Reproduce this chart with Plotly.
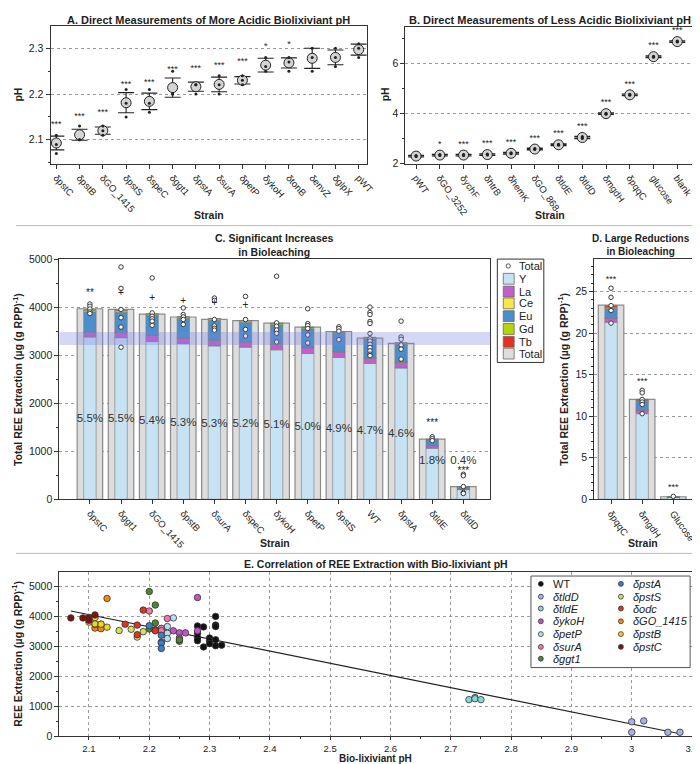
import plotly.graph_objects as go

W, H = 700, 764
FONT = "Liberation Sans, Arial, Helvetica, sans-serif"
INK = "#222222"


def px(x):
    return x / W


def py(y):
    return 1 - y / H


# ---------------- panel A: more acidic biolixiviant pH
a_strains = ["δpstC", "δpstB", "δGO_1415", "δpstS", "δspeC", "δggt1", "δpstA",
             "δsurA", "δpetP", "δykoH", "δtonB", "δenvZ", "δglpX", "pWT"]
a_mean = [2.093, 2.111, 2.120, 2.181, 2.184, 2.214, 2.216, 2.221, 2.230,
          2.263, 2.268, 2.278, 2.280, 2.297]
a_err = [0.015, 0.012, 0.008, 0.022, 0.018, 0.021, 0.010, 0.016, 0.008,
         0.015, 0.011, 0.022, 0.016, 0.012]
a_pts = [[2.07, 2.09, 2.11], [2.10, 2.10, 2.13], [2.11, 2.12, 2.13],
         [2.15, 2.18, 2.21], [2.16, 2.18, 2.21], [2.20, 2.20, 2.25],
         [2.20, 2.22, 2.22], [2.20, 2.22, 2.24], [2.22, 2.23, 2.24],
         [2.25, 2.26, 2.28], [2.25, 2.27, 2.28], [2.25, 2.28, 2.30],
         [2.26, 2.28, 2.30], [2.28, 2.30, 2.31]]
a_stars = ["***", "***", "***", "***", "***", "***", "***", "***", "***",
           "*", "*", "", "", ""]

# ---------------- panel B: less acidic biolixiviant pH
b_strains = ["pWT", "δGO_3252", "δychF", "δhtrB", "δhemK", "δGO_868",
             "δtldE", "δtldD", "δmgdH", "δpqqC", "glucose", "blank"]
b_mean = [2.30, 2.34, 2.34, 2.36, 2.41, 2.58, 2.75, 3.04, 3.99, 4.74, 6.26, 6.86]
b_err = [0.03, 0.03, 0.03, 0.03, 0.03, 0.03, 0.03, 0.04, 0.03, 0.03, 0.03, 0.03]
b_pts = [[2.28, 2.30, 2.32], [2.32, 2.34, 2.36], [2.32, 2.34, 2.36],
         [2.34, 2.36, 2.38], [2.39, 2.41, 2.43], [2.56, 2.58, 2.60],
         [2.73, 2.75, 2.77], [3.00, 3.04, 3.08], [3.97, 3.99, 4.01],
         [4.72, 4.74, 4.76], [6.24, 6.26, 6.28], [6.84, 6.86, 6.88]]
b_stars = ["", "*", "***", "***", "***", "***", "***", "***", "***", "***",
           "***", "***"]

# ---------------- panel C: significant increases in bioleaching
c_strains = ["δpstC", "δggt1", "δGO_1415", "δpstB", "δsurA", "δspeC", "δykoH",
             "δpetP", "δpstS", "WT", "δpstA", "δtldE", "δtldD"]
c_total = [3966, 3955, 3856, 3794, 3746, 3718, 3665, 3582, 3493, 3354, 3245, 1252, 265]
c_Y = [3378, 3364, 3282, 3240, 3192, 3165, 3110, 3034, 2952, 2828, 2732, 1061, 200]
c_La = [103, 117, 130, 117, 117, 110, 117, 124, 117, 103, 117, 55, 12]
c_Ce = [4, 4, 4, 4, 4, 4, 4, 4, 4, 4, 4, 2, 1]
c_Eu = [415, 408, 409, 402, 415, 408, 401, 388, 380, 408, 374, 120, 45]
c_Gd = [40, 40, 30, 30, 30, 30, 30, 30, 25, 25, 25, 10, 4]
c_Tb = [5, 5, 5, 5, 5, 5, 5, 5, 5, 5, 5, 3, 1]
c_pct = ["5.5%", "5.5%", "5.4%", "5.3%", "5.3%", "5.2%", "5.1%", "5.0%",
         "4.9%", "4.7%", "4.6%", "1.8%", "0.4%"]
c_marks = ["**", "+", "+", "+", "+", "+", "", "", "", "", "", "***", "***"]
c_pts = [
    [4065, 4017, 3962, 3900, 3866],
    [4835, 4390, 3950, 3780, 3585, 3165],
    [4608, 3880, 3811, 3756, 3708, 3620],
    [3983, 3845, 3797, 3742, 3639],
    [4189, 4141, 3742, 3610, 3560, 3520],
    [4223, 3742, 3536, 3400],
    [4643, 3673, 3603, 3522, 3454, 3275],
    [3966, 3656, 3615, 3553, 3420, 3254],
    [3590, 3553, 3500, 3323],
    [4000, 3890, 3845, 3700, 3660, 3450, 3340, 3295, 3227, 3160, 3090, 3020, 2990],
    [3708, 3378, 3330, 3213, 3124, 2918],
    [1300, 1260, 1220],
    [520, 490, 265, 140, 120],
]
wt_band = [3213, 3481]

# ---------------- panel D: large reductions in bioleaching
d_strains = ["δpqqC", "δmgdH", "Glucose"]
d_total = [23.35, 12.03, 0.30]
d_Y = [21.3, 10.3, 0.25]
d_La = [0.5, 0.45, 0.01]
d_Ce = [0.05, 0.03, 0.0]
d_Eu = [1.1, 1.0, 0.03]
d_Gd = [0.15, 0.1, 0.0]
d_Tb = [0.2, 0.15, 0.005]
d_pts = [[25.4, 24.3, 23.3, 22.7, 21.2],
         [13.1, 12.8, 12.0, 11.7, 11.4, 10.3],
         [0.35]]
d_stars = ["***", "***", "***"]

# ---------------- panel E: REE extraction vs pH
e_groups = ["WT", "δtldD", "δtldE", "δykoH", "δpetP", "δsurA", "δggt1",
            "δpstA", "δpstS", "δodc", "δGO_1415", "δpstB", "δpstC"]
e_colors = ["#111111", "#a9b1e6", "#86d8d6", "#c453c9", "#b9dcf2", "#f277ad",
            "#4b8a2a", "#3b7fc6", "#d2e05e", "#e5321e", "#f08a12", "#f3d32a", "#7d1212"]
e_ph = [
    [2.28, 2.28, 2.28, 2.28, 2.29, 2.29, 2.30, 2.30, 2.30, 2.31, 2.31, 2.31, 2.31, 2.31, 2.32],
    [3.00, 3.00, 3.02, 3.06, 3.08],
    [2.73, 2.74, 2.74, 2.75],
    [2.24, 2.25, 2.26, 2.28, 2.28, 2.25],
    [2.23, 2.23, 2.23, 2.24, 2.22],
    [2.20, 2.23, 2.22, 2.22, 2.21],
    [2.20, 2.21, 2.21, 2.20, 2.25, 2.25],
    [2.20, 2.22, 2.22, 2.22, 2.22],
    [2.15, 2.17, 2.18, 2.19, 2.10],
    [2.16, 2.18, 2.18, 2.19, 2.21, 2.21],
    [2.13, 2.11, 2.12, 2.12, 2.12, 2.11],
    [2.11, 2.11, 2.13, 2.12, 2.10],
    [2.07, 2.09, 2.10, 2.10, 2.11],
]
e_ree = [
    [3690, 3450, 3300, 3200, 3660, 2990, 3290, 3200, 3100, 4010, 3720, 3670, 3230, 3030, 3050],
    [490, 140, 520, 140, 140],
    [1230, 1300, 1260, 1230],
    [3530, 3460, 3460, 3530, 4640, 3290],
    [3670, 3450, 3270, 3960, 3600],
    [4190, 3940, 3610, 3530, 3560],
    [4840, 4390, 3790, 3590, 3180, 3230],
    [3700, 3380, 3150, 3120, 2940],
    [3540, 3580, 3320, 3500, 3980],
    [3750, 3720, 3400, 4220, 3560, 3530],
    [4610, 3620, 3750, 3670, 3600, 3740],
    [3760, 3970, 3650, 3750, 3820],
    [3960, 3960, 3960, 3880, 4060],
]
fit_ph = [2.07, 3.08]
fit_ree = [4190, 90]

ree_names = ["Y", "La", "Ce", "Eu", "Gd", "Tb"]
ree_colors = ["#c7e2f3", "#c25fcb", "#f7e64a", "#4a8fcb", "#b5d40a", "#e3321f"]
TOTAL_GRAY = "#dddddd"

fig = go.Figure()


def flat(cats, groups):
    xs, ys = [], []
    for c, g in zip(cats, groups):
        xs += [c] * len(g)
        ys += g
    return xs, ys


def marks(cats, ys, texts, xa, ya, size=9):
    keep = [(c, y, t) for c, y, t in zip(cats, ys, texts) if t]
    fig.add_trace(go.Scatter(x=[k[0] for k in keep], y=[k[1] for k in keep], mode="text",
                             text=[k[2] for k in keep], textfont=dict(size=size, color=INK),
                             xaxis=xa, yaxis=ya))


# ---- A
fig.add_trace(go.Scatter(x=a_strains, y=a_mean, mode="markers",
                         marker=dict(size=10, color="#d4d4d4", line=dict(color=INK, width=1)),
                         error_y=dict(type="data", array=a_err, color=INK, thickness=1.1, width=8),
                         xaxis="x", yaxis="y"))
ax_, ay_ = flat(a_strains, a_pts)
fig.add_trace(go.Scatter(x=ax_, y=ay_, mode="markers", marker=dict(size=3, color=INK),
                         xaxis="x", yaxis="y"))
marks(a_strains, [m + 0.04 for m in a_mean], a_stars, "x", "y")

# ---- B
fig.add_trace(go.Scatter(x=b_strains, y=b_mean, mode="markers",
                         marker=dict(size=10, color="#d4d4d4", line=dict(color=INK, width=1)),
                         error_y=dict(type="data", array=b_err, color=INK, thickness=1.4, width=8),
                         xaxis="x2", yaxis="y2"))
bx_, by_ = flat(b_strains, b_pts)
fig.add_trace(go.Scatter(x=bx_, y=by_, mode="markers", marker=dict(size=3, color=INK),
                         xaxis="x2", yaxis="y2"))
marks(b_strains, [m + 0.42 for m in b_mean], b_stars, "x2", "y2")


# ---- C and D stacked bars
def stacked(cats, total, comps, xa, ya):
    fig.add_trace(go.Bar(x=cats, y=total, width=0.82,
                         marker=dict(color=TOTAL_GRAY, line=dict(color="#8a8a8a", width=1.2)),
                         xaxis=xa, yaxis=ya))
    base = [0] * len(cats)
    for vals, col in zip(comps, ree_colors):
        fig.add_trace(go.Bar(x=cats, y=vals, base=base, width=0.4,
                             marker=dict(color=col, line=dict(color="#7a7a7a", width=0.6)),
                             xaxis=xa, yaxis=ya))
        base = [b + v for b, v in zip(base, vals)]


stacked(c_strains, c_total, [c_Y, c_La, c_Ce, c_Eu, c_Gd, c_Tb], "x3", "y3")
stacked(d_strains, d_total, [d_Y, d_La, d_Ce, d_Eu, d_Gd, d_Tb], "x4", "y4")

fig.add_trace(go.Scatter(x=c_strains, y=[max(0.42 * t, 790) for t in c_total], mode="text",
                         text=c_pct, textfont=dict(size=11.5, color="#333333"),
                         xaxis="x3", yaxis="y3"))
cx_, cy_ = flat(c_strains, c_pts)
fig.add_trace(go.Scatter(x=cx_, y=cy_, mode="markers",
                         marker=dict(size=4.5, color="white", line=dict(color="#3a3a3a", width=1)),
                         xaxis="x3", yaxis="y3"))
marks(c_strains, [t + 320 for t in c_total], c_marks, "x3", "y3", size=10)

dx_, dy_ = flat(d_strains, d_pts)
fig.add_trace(go.Scatter(x=dx_, y=dy_, mode="markers",
                         marker=dict(size=4.5, color="white", line=dict(color="#3a3a3a", width=1)),
                         xaxis="x4", yaxis="y4"))
marks(d_strains, [max(p) + 1.0 for p in d_pts], d_stars, "x4", "y4")

# ---- E
fig.add_trace(go.Scatter(x=fit_ph, y=fit_ree, mode="lines", line=dict(color=INK, width=1.2),
                         xaxis="x5", yaxis="y5"))
for name, col, xs, ys in zip(e_groups, e_colors, e_ph, e_ree):
    fig.add_trace(go.Scatter(x=xs, y=ys, mode="markers", name=name,
                             marker=dict(size=6.5, color=col, line=dict(color="#333333", width=0.8)),
                             xaxis="x5", yaxis="y5"))


def axis(**kw):
    d = dict(showline=True, linecolor="#333333", linewidth=1, mirror=True, ticks="outside",
             ticklen=4, tickwidth=1, tickcolor="#333333", tickfont=dict(size=10.5, color=INK),
             showgrid=False, zeroline=False, fixedrange=True)
    d.update(kw)
    return d


cat_font = dict(size=9.5, color=INK)
grid = dict(showgrid=True, gridcolor="#9a9a9a", griddash="dot", gridwidth=1)
minor = dict(ticks="outside", ticklen=2, tickcolor="#333333", showgrid=False)

fig.update_layout(
    width=W, height=H, margin=dict(l=0, r=0, t=0, b=0),
    paper_bgcolor="white", plot_bgcolor="white", showlegend=False,
    barmode="overlay", font=dict(family=FONT, color=INK),
    xaxis=axis(domain=[px(43), px(363)], anchor="y", type="category", tickangle=48,
               range=[-0.25, 13.35], tickfont=cat_font),
    yaxis=axis(domain=[py(152), py(12)], anchor="x", range=[2.048, 2.349], dtick=0.1,
               tick0=2.1, minor=dict(dtick=0.05, **minor), **grid),
    xaxis2=axis(domain=[px(402), px(695)], anchor="y2", type="category", tickangle=55,
                range=[-0.45, 11.75], tickfont=cat_font),
    yaxis2=axis(domain=[py(152), py(13)], anchor="x2", range=[2, 7.45], tickvals=[2, 4, 6],
                minor=dict(dtick=1, **minor), **grid),
    xaxis3=axis(domain=[px(52), px(488)], anchor="y3", type="category", tickangle=48,
                range=[-0.98, 12.87], tickfont=cat_font),
    yaxis3=axis(domain=[py(493), py(249)], anchor="x3", range=[0, 5000], dtick=1000,
                minor=dict(dtick=500, **minor), **grid),
    xaxis4=axis(domain=[px(593), px(696)], anchor="y4", type="category", tickangle=55,
                range=[-0.54, 2.73], tickfont=cat_font),
    yaxis4=axis(domain=[py(493), py(249)], anchor="x4", range=[0, 28.9], dtick=5,
                minor=dict(dtick=1, **minor), **grid),
    xaxis5=axis(domain=[px(52), px(695)], anchor="y5", range=[2.051, 3.105], dtick=0.1,
                tick0=2.1, ticklen=3, minor=dict(dtick=0.05, **minor),
                tickfont=dict(size=9.5, color=INK), **grid),
    yaxis5=axis(domain=[py(734), py(567)], anchor="x5", range=[0, 5490], dtick=1000,
                minor=dict(dtick=500, **minor), **grid),
)

# WT reference band in panel C
fig.add_shape(type="rect", xref="x3 domain", yref="y3", x0=0, x1=1, y0=wt_band[0], y1=wt_band[1],
              fillcolor="rgba(120,130,225,0.32)", line=dict(width=0), layer="above")

# panel separators
for yy in (215, 548):
    fig.add_shape(type="line", xref="paper", yref="paper", x0=px(8), x1=px(692),
                  y0=py(yy), y1=py(yy), line=dict(color="#bbbbbb", width=1))


def label(text, x, y, size=10.5, angle=0):
    fig.add_annotation(text=text, x=px(x), y=py(y), xref="paper", yref="paper",
                       showarrow=False, xanchor="center", yanchor="middle", textangle=angle,
                       font=dict(size=size, color=INK, family=FONT))


label("<b>A. Direct Measurements of More Acidic Biolixiviant pH</b>", 203, 6, 11)
label("<b>B. Direct Measurements of Less Acidic Biolixiviant pH</b>", 548, 6, 11)
label("<b>C. Significant Increases<br>in Bioleaching</b>", 270, 235)
label("<b>D. Large Reductions<br>in Bioleaching</b>", 640, 235, 10)
label("<b>E. Correlation of REE Extraction with Bio-lixiviant pH</b>", 372, 559)
label("<b>Strain</b>", 203, 204)
label("<b>Strain</b>", 548, 204)
label("<b>Strain</b>", 270, 537)
label("<b>Strain</b>", 642, 537)
label("<b>Bio-lixiviant pH</b>", 372, 756, 10)
label("<b>pH</b>", 10, 82, angle=-90)
label("<b>pH</b>", 381, 82, angle=-90)
label("<b>Total REE Extraction (µg (g RPP)<sup>-1</sup>)</b>", 9, 371, angle=-90)
label("<b>Total REE Extraction (µg (g RPP)<sup>-1</sup>)</b>", 561, 371, angle=-90)
label("<b>REE Extraction (µg (g RPP)<sup>-1</sup>)</b>", 9, 650, angle=-90)


def legend_text(text, x, y, size=11):
    fig.add_annotation(text=text, x=px(x), y=py(y), xref="paper", yref="paper",
                       showarrow=False, xanchor="left", yanchor="middle",
                       font=dict(size=size, color=INK, family=FONT))


def dot(x, y, r, fill, edge="#333333"):
    fig.add_shape(type="circle", xref="paper", yref="paper", x0=px(x - r), x1=px(x + r),
                  y0=py(y + r), y1=py(y - r), fillcolor=fill, line=dict(color=edge, width=0.8))


# legend, panel C
fig.add_shape(type="rect", xref="paper", yref="paper", x0=px(495), x1=px(542), y0=py(354),
              y1=py(249), line=dict(color="#333333", width=1), fillcolor="white")
rows_c = [256, 269, 282, 294, 307, 320, 333, 345]
dot(506, rows_c[0], 2.2, "white")
legend_text("Total", 515, rows_c[0])
for yy, name, col in zip(rows_c[1:], ree_names + ["Total"], ree_colors + [TOTAL_GRAY]):
    fig.add_shape(type="rect", xref="paper", yref="paper", x0=px(501), x1=px(512),
                  y0=py(yy + 5.5), y1=py(yy - 5.5), fillcolor=col, line=dict(color="#666666", width=0.8))
    legend_text(name, 515, yy)

# legend, panel E
fig.add_shape(type="rect", xref="paper", yref="paper", x0=px(529), x1=px(690), y0=py(664),
              y1=py(571), line=dict(color="#555555", width=1), fillcolor="white")
rows_e = [579, 592, 604, 617, 630, 643, 655]
for i, (name, col) in enumerate(zip(e_groups, e_colors)):
    col_x = 539 if i < 7 else 620
    yy = rows_e[i if i < 7 else i - 7]
    dot(col_x, yy, 2.5, col)
    legend_text(name if name == "WT" else "<i>" + name + "</i>", col_x + 10, yy)

fig.write_html("out.html")
